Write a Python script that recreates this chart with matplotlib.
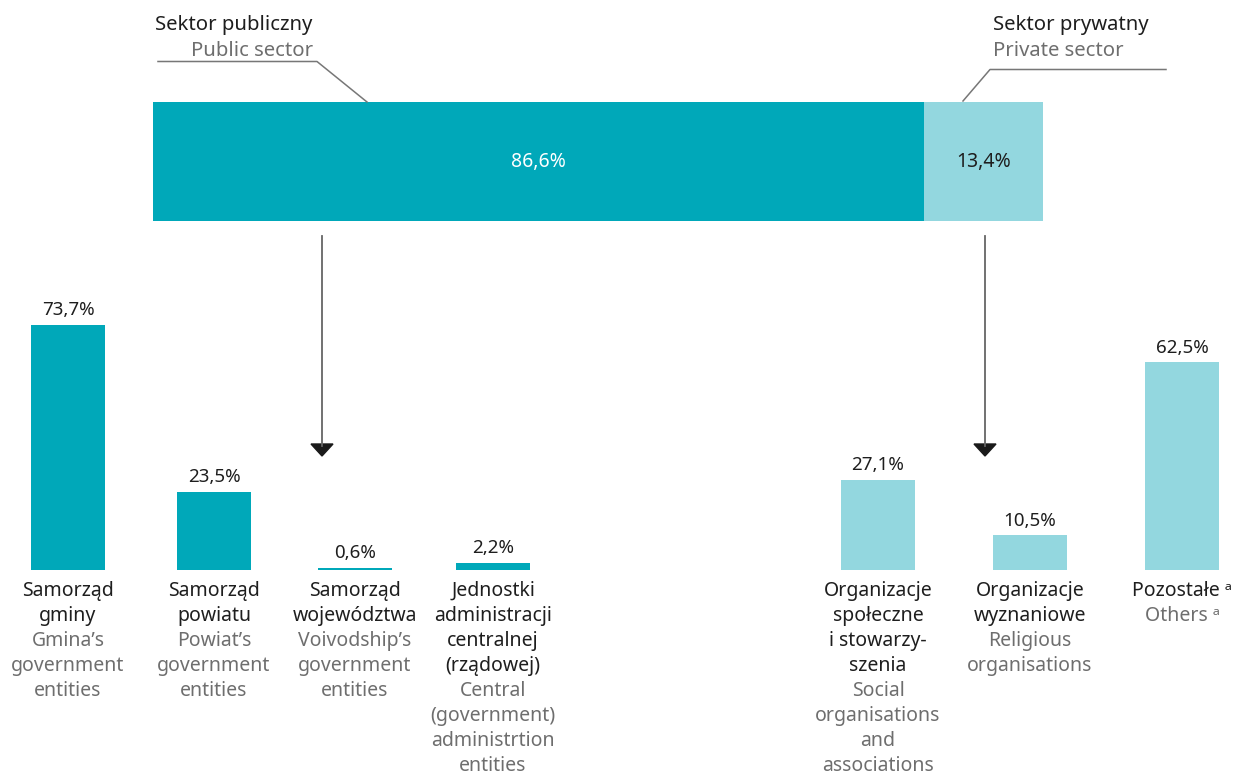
import matplotlib
matplotlib.use('Agg')
import matplotlib.pyplot as plt
from matplotlib.lines import Line2D

plt.rcParams['font.family'] = ['Noto Sans', 'DejaVu Sans']

# data
sectors = ['Sektor publiczny', 'Sektor prywatny']
sectors_en = ['Public sector', 'Private sector']
sector_share = [86.6, 13.4]

cat_pl = ['Samorząd\ngminy', 'Samorząd\npowiatu', 'Samorząd\nwojewództwa',
          'Jednostki\nadministracji\ncentralnej\n(rządowej)',
          'Organizacje\nspołeczne\ni stowarzy-\nszenia', 'Organizacje\nwyznaniowe',
          'Pozostałe ᵃ']
cat_en = ["Gmina’s\ngovernment\nentities", "Powiat’s\ngovernment\nentities",
          "Voivodship’s\ngovernment\nentities",
          "Central\n(government)\nadministrtion\nentities",
          "Social\norganisations\nand\nassociations", "Religious\norganisations",
          "Others ᵃ"]
cat_share = [73.7, 23.5, 0.6, 2.2, 27.1, 10.5, 62.5]
cat_sector = [0, 0, 0, 0, 1, 1, 1]

# layout (pixels)
W, H = 1236, 775
bar_x = [68, 214, 355, 493, 878, 1030, 1182]
colors = ['#00a8b9', '#93d7df']
dark = '#1e1e1e'
grey = '#6e6e6e'
fs = 14

def fmt(v):
    return ('%.1f%%' % v).replace('.', ',')

def fy(y):
    return H - y

fig = plt.figure(figsize=(W / 100, H / 100), dpi=100)

# top stacked bar
axt = fig.add_axes([153 / W, fy(221) / H, 890 / W, 119 / H])
left = 0
for i, v in enumerate(sector_share):
    axt.barh(0, v, left=left, height=1, color=colors[i])
    axt.text(left + v / 2, 0, fmt(v), ha='center', va='center', fontsize=14,
             color='white' if i == 0 else dark)
    left += v
axt.set_xlim(0, 100)
axt.set_ylim(-0.5, 0.5)
axt.axis('off')

# bottom bars
axb = fig.add_axes([0, fy(570) / H, 1, 266 / H])
axb.bar(bar_x, cat_share, width=74, color=[colors[s] for s in cat_sector])
axb.set_xlim(0, W)
axb.set_ylim(0, 80)
axb.axis('off')

for x, v in zip(bar_x, cat_share):
    axb.annotate(fmt(v), (x, v), xytext=(0, 4), textcoords='offset points',
                 ha='center', va='bottom', fontsize=13.5, color=dark)

line_h = 25 * 0.72
for x, pl, en in zip(bar_x, cat_pl, cat_en):
    lines = [(t, dark) for t in pl.split('\n')] + [(t, grey) for t in en.split('\n')]
    for k, (t, c) in enumerate(lines):
        axb.annotate(t, (x, 0), xytext=(0, -21 * 0.72 - k * line_h),
                     textcoords='offset points', ha='center', va='center',
                     fontsize=fs, color=c, annotation_clip=False)

# sector headers and leader lines
fs_head = 14.6
fig.text(155 / W, fy(25) / H, sectors[0], ha='left', va='center', fontsize=fs_head, color=dark)
fig.text(313 / W, fy(51) / H, sectors_en[0], ha='right', va='center', fontsize=fs_head, color=grey)
fig.text(993 / W, fy(25) / H, sectors[1], ha='left', va='center', fontsize=fs_head, color=dark)
fig.text(993 / W, fy(51) / H, sectors_en[1], ha='left', va='center', fontsize=fs_head, color=grey)

def fline(xs, ys, **kw):
    fig.add_artist(Line2D([x / W for x in xs], [fy(y) / H for y in ys], **kw))

fline([158, 317, 367], [61.5, 61.5, 102], color='#777777', lw=1.1)
fline([1166, 990, 963], [69.5, 69.5, 101], color='#777777', lw=1.1)

# arrows
for ax_x in [322, 985]:
    fline([ax_x, ax_x], [236, 446], color='#666666', lw=1.3)
    fig.add_artist(plt.Polygon([((ax_x - 11) / W, fy(444) / H), ((ax_x + 11) / W, fy(444) / H),
                                (ax_x / W, fy(456) / H)], closed=True, color='#1a1a1a',
                               transform=fig.transFigure))

fig.savefig('out.png', dpi=100)
